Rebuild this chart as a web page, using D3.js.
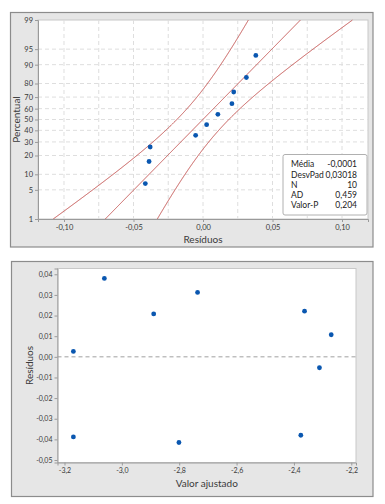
<!DOCTYPE html>
<html>
<head>
<meta charset="utf-8">
<script src="https://cdn.jsdelivr.net/npm/d3@7"></script>
<style>
  body { margin: 0; background: #fff; }
  svg { display: block; font-family: Lato, "Open Sans", sans-serif; }
</style>
</head>
<body>
<svg id="chart" width="385" height="504"></svg>
<script>
// data
const fitted = [-3.169, -3.061, -2.889, -2.736, -2.363, -2.270, -2.311, -3.169, -2.801, -2.376];
const residuals = [0.0026, 0.038, 0.0208, 0.0312, 0.0221, 0.0107, -0.0053, -0.0388, -0.0415, -0.038];
// plotting positions (percent) for the 10 sorted residuals
const percents = [6.7, 16.3, 26.0, 35.6, 45.2, 54.8, 64.4, 74.0, 83.7, 93.3];
const pctTicks = [1, 5, 10, 20, 30, 40, 50, 60, 70, 80, 90, 95, 99];
const resTicks = [-0.10, -0.05, 0.00, 0.05, 0.10];
const resGrid = [-0.10, -0.075, -0.05, -0.025, 0, 0.025, 0.05, 0.075, 0.10];
const fitTicks = [-3.2, -3.0, -2.8, -2.6, -2.4, -2.2];
const residTicks = [0.04, 0.03, 0.02, 0.01, 0, -0.01, -0.02, -0.03, -0.04, -0.05];
const statLabels = ["Média", "DesvPad", "N", "AD", "Valor-P"];
const statValues = ["-0,0001", "0,03018", "10", "0,459", "0,204"];
const mean = -0.0001, sd = 0.03018, n = 10;

const loc = d3.formatLocale({decimal: ",", thousands: ".", grouping: [3], currency: ["", ""], minus: "-"});
const f2 = loc.format(".2f");
const f1 = loc.format(".1f");

// inverse normal cdf (Acklam)
function qnorm(p) {
    const a = [-39.69683028665376, 220.9460984245205, -275.9285104469687, 138.357751867269, -30.66479806614716, 2.506628277459239];
    const b = [-54.47609879822406, 161.5858368580409, -155.6989798598866, 66.80131188771972, -13.28068155288572];
    const c = [-0.007784894002430293, -0.3223964580411365, -2.400758277161838, -2.549732539343734, 4.374664141464968, 2.938163982698783];
    const d = [0.007784695709041462, 0.3224671290700398, 2.445134137142996, 3.754408661907416];
    const pl = 0.02425;
    let q, r;
    if (p < pl) {
        q = Math.sqrt(-2 * Math.log(p));
        return (((((c[0]*q+c[1])*q+c[2])*q+c[3])*q+c[4])*q+c[5]) / ((((d[0]*q+d[1])*q+d[2])*q+d[3])*q+1);
    }
    if (p > 1 - pl) {
        q = Math.sqrt(-2 * Math.log(1 - p));
        return -(((((c[0]*q+c[1])*q+c[2])*q+c[3])*q+c[4])*q+c[5]) / ((((d[0]*q+d[1])*q+d[2])*q+d[3])*q+1);
    }
    q = p - 0.5; r = q * q;
    return (((((a[0]*r+a[1])*r+a[2])*r+a[3])*r+a[4])*r+a[5])*q / (((((b[0]*r+b[1])*r+b[2])*r+b[3])*r+b[4])*r+1);
}

const svg = d3.select("#chart");
const axisCol = "#9a9a9a";
const textCol = "#3a3a3a";
const redCol = "#c4514f";
const dotCol = "#0a57b0";

function panel(x0, y0, x1, y1) {
    svg.append("rect").attr("x", x0).attr("y", y0).attr("width", x1 - x0).attr("height", y1 - y0)
        .attr("fill", "#e6e6e6").attr("stroke", "#8c8c8c").attr("stroke-width", 1.2);
}

function styleAxis(a, size) {
    a.select(".domain").attr("stroke", axisCol);
    a.selectAll(".tick line").attr("stroke", axisCol);
    a.selectAll(".tick text").attr("fill", textCol).attr("font-size", size)
        .attr("font-family", "Lato, sans-serif");
}

///
/// TOP: normal probability plot
///
panel(10.5, 12.5, 373, 247);
const t = {l: 38, r: 368, t: 20, b: 219};
svg.append("rect").attr("x", t.l).attr("y", t.t).attr("width", t.r - t.l).attr("height", t.b - t.t)
    .attr("fill", "#fff").attr("stroke", "#c8c8c8");

const x1 = d3.scaleLinear().domain([-0.1187, 0.1187]).range([t.l, t.r]);
const zMax = qnorm(0.99);
const y1 = d3.scaleLinear().domain([-zMax, zMax]).range([t.b, t.t]);
const yp = p => y1(qnorm(p / 100));

const g1 = svg.append("g");
g1.selectAll("line.vg").data(resGrid).join("line").attr("class", "vg")
    .attr("x1", d => x1(d)).attr("x2", d => x1(d)).attr("y1", t.t).attr("y2", t.b)
    .attr("stroke", "#dedede").attr("stroke-dasharray", "4,3");
g1.selectAll("line.hg").data(pctTicks.slice(1, -1)).join("line").attr("class", "hg")
    .attr("x1", t.l).attr("x2", t.r).attr("y1", d => yp(d)).attr("y2", d => yp(d))
    .attr("stroke", "#dedede").attr("stroke-dasharray", "4,3");

// fitted line and 95% confidence bands, only where they fall inside the x domain
const zs = d3.range(-zMax, zMax + 0.001, 0.01);
const xd = x1.domain();
const inside = pts => pts.filter(p => p[0] >= xd[0] && p[0] <= xd[1]);
const fitLine = d3.line().x(d => x1(d[0])).y(d => y1(d[1]));
const half = z => 1.96 * sd * Math.sqrt(1 / n + z * z / (2 * (n - 1)));
const curves = [
    inside(zs.map(z => [mean + sd * z, z])),
    inside(zs.map(z => [mean + sd * z - half(z), z])),
    inside(zs.map(z => [mean + sd * z + half(z), z]))
];
svg.append("g").selectAll("path.fit").data(curves).join("path").attr("class", "fit")
    .attr("d", fitLine).attr("fill", "none").attr("stroke", redCol).attr("stroke-width", 1);

const sortedRes = residuals.slice().sort(d3.ascending);
svg.append("g").selectAll("circle").data(sortedRes).join("circle")
    .attr("cx", d => x1(d)).attr("cy", (d, i) => yp(percents[i])).attr("r", 2.4)
    .attr("fill", dotCol);

// axes
const ax1 = svg.append("g").attr("transform", `translate(0,${t.b})`)
    .call(d3.axisBottom(x1).tickValues(resTicks).tickFormat(f2).tickSize(3).tickPadding(3));
const ay1 = svg.append("g").attr("transform", `translate(${t.l},0)`)
    .call(d3.axisLeft(y1).tickValues(pctTicks.map(p => qnorm(p / 100))).tickFormat((d, i) => pctTicks[i]).tickSize(3).tickPadding(2));
styleAxis(ax1, 7.5);
styleAxis(ay1, 7.5);

svg.append("text").attr("x", x1(0)).attr("y", 243).attr("text-anchor", "middle")
    .attr("font-size", 10).attr("fill", textCol).text("Resíduos");
svg.append("text").attr("transform", `translate(20,${(t.t + t.b) / 2}) rotate(-90)`)
    .attr("text-anchor", "middle").attr("font-size", 10).attr("fill", textCol).text("Percentual");

// stats box
const box = svg.append("g").attr("transform", "translate(283,154.5)");
box.append("rect").attr("width", 84).attr("height", 60.5).attr("rx", 2)
    .attr("fill", "#fff").attr("stroke", "#b0b0b0");
box.selectAll("text.sl").data(statLabels).join("text").attr("class", "sl")
    .attr("x", 8).attr("y", (d, i) => 12.8 + i * 10.2).attr("font-size", 8.5).attr("fill", "#222").text(d => d);
box.selectAll("text.sv").data(statValues).join("text").attr("class", "sv")
    .attr("x", 74).attr("y", (d, i) => 12.8 + i * 10.2).attr("text-anchor", "end")
    .attr("font-size", 8.5).attr("fill", "#222").text(d => d);

///
/// BOTTOM: residuals vs fitted
///
panel(11.5, 261.5, 373, 496.5);
const b = {l: 57.5, r: 356, t: 268.5, b: 462.5};
svg.append("rect").attr("x", b.l).attr("y", b.t).attr("width", b.r - b.l).attr("height", b.b - b.t)
    .attr("fill", "#fff").attr("stroke", "#c8c8c8");

const x2 = d3.scaleLinear().domain([-3.2244, -2.1836]).range([b.l, b.r]);
const y2 = d3.scaleLinear().domain([-0.0512, 0.0428]).range([b.b, b.t]);

svg.append("line").attr("x1", b.l).attr("x2", b.r).attr("y1", y2(0)).attr("y2", y2(0))
    .attr("stroke", "#a0a0a0").attr("stroke-dasharray", "4,3");

svg.append("g").selectAll("circle").data(fitted).join("circle")
    .attr("cx", d => x2(d)).attr("cy", (d, i) => y2(residuals[i])).attr("r", 2.4)
    .attr("fill", dotCol);

const ax2 = svg.append("g").attr("transform", `translate(0,${b.b})`)
    .call(d3.axisBottom(x2).tickValues(fitTicks).tickFormat(f1).tickSize(3).tickPadding(3));
const ay2 = svg.append("g").attr("transform", `translate(${b.l},0)`)
    .call(d3.axisLeft(y2).tickValues(residTicks).tickFormat(f2).tickSize(3).tickPadding(2));
styleAxis(ax2, 7);
styleAxis(ay2, 7);

svg.append("text").attr("x", (b.l + b.r) / 2).attr("y", 487).attr("text-anchor", "middle")
    .attr("font-size", 10).attr("fill", textCol).text("Valor ajustado");
svg.append("text").attr("transform", `translate(33,${(b.t + b.b) / 2}) rotate(-90)`)
    .attr("text-anchor", "middle").attr("font-size", 10).attr("fill", textCol).text("Resíduos");
</script>
</body>
</html>
